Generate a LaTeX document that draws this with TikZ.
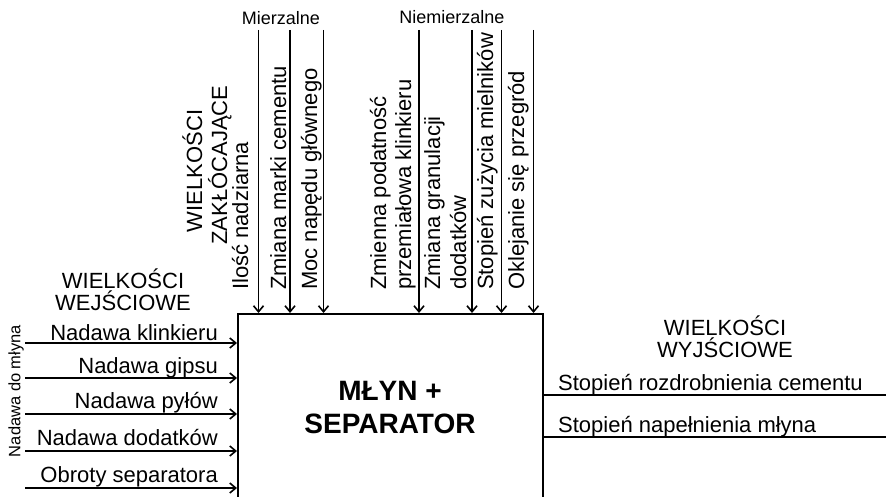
\documentclass[tikz,border=0pt]{standalone}
\usepackage{fontspec}
\setmainfont{Liberation Sans}
\usetikzlibrary{arrows.meta}
\begin{document}
\begin{tikzpicture}[x=1pt,y=-1pt,
  lbl/.style={font=\fontsize{22}{26}\selectfont, inner sep=0pt},
  vlbl/.style={lbl, rotate=90, anchor=base west},
  vhead/.style={lbl, rotate=90, anchor=base},
  head/.style={lbl, anchor=base},
  inlbl/.style={lbl, anchor=base east},
  outlbl/.style={lbl, anchor=base west},
  grp/.style={font=\fontsize{18}{22}\selectfont, inner sep=0pt, anchor=base},
  arr/.style={line width=1.6pt, -{Straight Barb[length=6pt,width=10pt]}},
  ln/.style={line width=1.6pt}]
\clip (0,0) rectangle (886,497);
\fill[white] (0,0) rectangle (886,497);
% main block (open at the bottom, runs past the edge)
\node[draw, line width=1.6pt, minimum width=305pt, minimum height=230pt, inner sep=0pt, anchor=north west] (mill) at (237,313) {};
\node[font=\fontsize{28}{33}\selectfont\bfseries, inner sep=0pt, anchor=base] (t1) at (390,400) {MŁYN +};
\node[font=\fontsize{28}{33}\selectfont\bfseries, inner sep=0pt, anchor=base] (t2) at (390,433) {SEPARATOR};
% disturbance group labels
\node[grp] (gm) at (281,25) {Mierzalne};
\node[grp] (gn) at (452,24) {Niemierzalne};
\node[vhead] (h1) at (202,171) {WIELKOŚCI};
\node[vhead] (h2) at (227,165) {ZAKŁÓCAJĄCE};
% disturbance arrows
\coordinate (d1) at (258.5,30);
\coordinate (d2) at (290,30);
\coordinate (d3) at (323.5,30);
\coordinate (d4) at (419,30);
\coordinate (d5) at (472,30);
\coordinate (d6) at (501.5,30);
\coordinate (d7) at (533.5,30);
\foreach \c in {d1,d2,d3,d4,d5,d6,d7}{\draw[arr] (\c) -- (\c |- mill.north);}
\node[vlbl] (v1) at (248,290) {Ilość nadziarna};
\node[vlbl] (v2) at (286,290) {Zmiana marki cementu};
\node[vlbl] (v3) at (317,290) {Moc napędu głównego};
\node[vlbl] (v4a) at (386,290) {Zmienna podatność};
\node[vlbl] (v4b) at (411,290) {przemiałowa klinkieru};
\node[vlbl] (v5a) at (440,290) {Zmiana granulacji};
\node[vlbl] (v5b) at (466,290) {dodatków};
\node[vlbl] (v6) at (493,290) {Stopień zużycia mielników};
\node[vlbl] (v7) at (524,290) {Oklejanie się przegród};
% inputs
\node[head] (hi1) at (123,288) {WIELKOŚCI};
\node[head] (hi2) at (123,310) {WEJŚCIOWE};
\node[font=\fontsize{16.5}{20}\selectfont, inner sep=0pt, rotate=90, anchor=center] (nd) at (16,391) {Nadawa do młyna};
\coordinate (i1) at (25,343);
\coordinate (i2) at (25,378);
\coordinate (i3) at (25,414);
\coordinate (i4) at (25,451);
\coordinate (i5) at (25,488);
\foreach \c in {i1,i2,i3,i4,i5}{\draw[arr] (\c) -- (\c -| mill.west);}
\node[inlbl] (l1) at (218,340) {Nadawa klinkieru};
\node[inlbl] (l2) at (218,373) {Nadawa gipsu};
\node[inlbl] (l3) at (218,408) {Nadawa pyłów};
\node[inlbl] (l4) at (218,445) {Nadawa dodatków};
\node[inlbl] (l5) at (218,482) {Obroty separatora};
% outputs
\node[head] (ho1) at (725,335) {WIELKOŚCI};
\node[head] (ho2) at (725,357) {WYJŚCIOWE};
\coordinate (o1) at (886,395);
\coordinate (o2) at (886,437);
\foreach \c in {o1,o2}{\draw[ln] (\c -| mill.east) -- (\c);}
\node[outlbl] (r1) at (558,390) {Stopień rozdrobnienia cementu};
\node[outlbl] (r2) at (558,432) {Stopień napełnienia młyna};
\end{tikzpicture}
\end{document}
